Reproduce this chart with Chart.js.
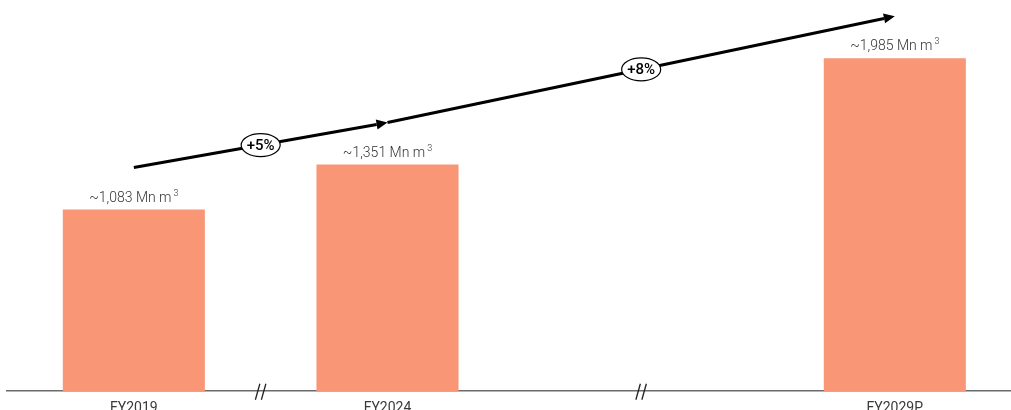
<!DOCTYPE html>
<html>
<head>
<meta charset="utf-8">
<script src="https://cdn.jsdelivr.net/npm/chart.js@4/dist/chart.umd.min.js"></script>
<style>
  html, body { margin: 0; padding: 0; background: #fff; overflow: hidden; }
  #wrap { position: relative; width: 1011px; height: 418px; }
</style>
</head>
<body>
<div id="wrap"><canvas id="chart"></canvas></div>
<script>
// Water demand by fiscal year; the empty slot marks the gap before the projection year
const categories = ['FY2019', 'FY2024', '', 'FY2029P'];
const volumes = [1083, 1351, null, 1985];          // Mn m³
const growthLabels = ['+5%', '+8%'];               // CAGR between consecutive reported years
const breakSlots = [0.5, 2];                       // where the time axis is broken

const barColor = '#F99676';
const textColor = '#3a3a3a';

const points = categories.map((c, i) => ({ x: i, y: volumes[i] }));

function fmt(v) { return '~' + v.toLocaleString('en-US') + ' Mn m'; }

const annotate = {
  id: 'annotate',
  afterDatasetsDraw(chart) {
    const ctx = chart.ctx;
    const xs = chart.scales.x;
    const meta = chart.getDatasetMeta(0);
    const shown = [];
    volumes.forEach((v, i) => { if (v != null) shown.push({ bar: meta.data[i], value: v }); });

    // value labels with superscript unit
    ctx.save();
    ctx.fillStyle = '#333';
    ctx.textBaseline = 'alphabetic';
    ctx.textAlign = 'left';
    shown.forEach(({ bar, value }) => {
      const main = fmt(value);
      ctx.font = '300 14px Roboto';
      const w1 = ctx.measureText(main).width;
      ctx.font = '300 9px Roboto';
      const w2 = ctx.measureText('3').width + 2;
      const x0 = bar.x - (w1 + w2) / 2;
      const yb = bar.y - 8;
      ctx.font = '300 14px Roboto';
      ctx.fillText(main, x0, yb);
      ctx.font = '300 9px Roboto';
      ctx.fillText('3', x0 + w1 + 2, yb - 6);
    });
    ctx.restore();

    // growth arrows between bar tops
    const tips = shown.map(({ bar }) => ({ x: bar.x, y: bar.y - 42 }));
    ctx.save();
    ctx.strokeStyle = '#000';
    ctx.fillStyle = '#000';
    ctx.lineWidth = 3;
    for (let i = 0; i < tips.length - 1; i++) {
      const a = tips[i], b = tips[i + 1];
      const ang = Math.atan2(b.y - a.y, b.x - a.x);
      const headLen = 11, headHalf = 5;
      const bx = b.x - headLen * Math.cos(ang), by = b.y - headLen * Math.sin(ang);
      ctx.beginPath();
      ctx.moveTo(a.x, a.y);
      ctx.lineTo(bx, by);
      ctx.stroke();
      ctx.beginPath();
      ctx.moveTo(b.x, b.y);
      ctx.lineTo(bx + headHalf * Math.sin(ang), by - headHalf * Math.cos(ang));
      ctx.lineTo(bx - headHalf * Math.sin(ang), by + headHalf * Math.cos(ang));
      ctx.closePath();
      ctx.fill();
    }
    // growth badges at segment midpoints
    for (let i = 0; i < tips.length - 1; i++) {
      const a = tips[i], b = tips[i + 1];
      const mx = (a.x + b.x) / 2, my = (a.y + b.y) / 2;
      ctx.beginPath();
      ctx.ellipse(mx, my, 19.5, 11.5, 0, 0, Math.PI * 2);
      ctx.fillStyle = '#fff';
      ctx.fill();
      ctx.lineWidth = 1.2;
      ctx.strokeStyle = '#000';
      ctx.stroke();
      ctx.fillStyle = '#000';
      ctx.font = '500 15px Roboto';
      ctx.textAlign = 'center';
      ctx.textBaseline = 'middle';
      ctx.fillText(growthLabels[i], mx, my + 1);
    }
    ctx.restore();

    // axis break marks
    ctx.save();
    ctx.strokeStyle = '#222';
    ctx.lineWidth = 1.3;
    const yAxis = chart.chartArea.bottom;
    breakSlots.forEach(s => {
      const cx = xs.getPixelForValue(s);
      for (let j = 0; j < 2; j++) {
        const bxp = cx - 5.3 + j * 6;
        ctx.beginPath();
        ctx.moveTo(bxp, yAxis + 8.5);
        ctx.lineTo(bxp + 4.5, yAxis - 7.5);
        ctx.stroke();
      }
    });
    ctx.restore();
  }
};

new Chart(document.getElementById('chart'), {
  type: 'bar',
  data: {
    datasets: [{
      data: points,
      backgroundColor: barColor,
      borderWidth: 0,
      barPercentage: 0.56,
      categoryPercentage: 1
    }]
  },
  options: {
    responsive: true,
    maintainAspectRatio: false,
    animation: false,
    layout: { padding: { left: 7, right: 0, top: 0, bottom: 0 } },
    plugins: { legend: { display: false }, tooltip: { enabled: false } },
    scales: {
      x: {
        type: 'linear',
        offset: false,
        min: -0.5,
        max: 3.458,
        afterBuildTicks(scale) {
          scale.ticks = categories.map((c, i) => ({ value: i }));
        },
        grid: { display: false, offset: false },
        border: { display: true, color: '#6b6b6b', width: 1.5 },
        ticks: {
          padding: 1,
          color: textColor,
          font: { family: 'Roboto', size: 14 },
          callback: v => categories[v] ?? ''
        }
      },
      y: {
        display: false,
        min: 0,
        max: 2332
      }
    }
  },
  plugins: [annotate]
});
</script>
</body>
</html>
